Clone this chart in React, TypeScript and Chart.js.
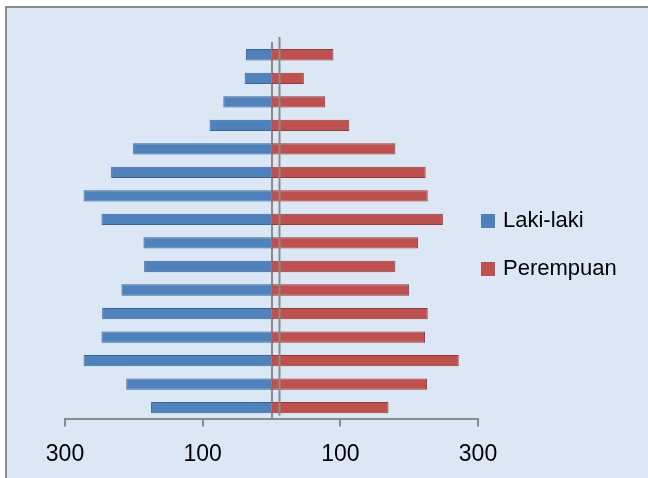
import React, { useEffect, useRef } from "react";
import { Chart, registerables } from "chart.js";

Chart.register(...registerables);

// Age groups from youngest (bottom) to oldest (top)
const AGE_GROUPS = [
  "0-4", "5-9", "10-14", "15-19", "20-24", "25-29", "30-34", "35-39",
  "40-44", "45-49", "50-54", "55-59", "60-64", "65-69", "70-74", "75+",
];
const LAKI_LAKI = [175, 211, 273, 247, 246, 218, 185, 186, 247, 273, 233, 201, 90, 70, 39, 37];
const PEREMPUAN = [170, 226, 272, 223, 227, 200, 180, 213, 249, 227, 224, 180, 113, 78, 47, 90];
const X_TICKS = [-300, -100, 100, 300];
const SERIES_NAMES = ["Laki-laki", "Perempuan"];
const SERIES_COLORS = ["#4f81bd", "#c0504d"];
const SERIES_BORDERS = ["#3b6597", "#923c3a"];

const backLinePlugin = {
  id: "backLine",
  afterDatasetsDraw(chart: any) {
    const xs = chart.scales.x;
    const area = chart.chartArea;
    const ctx = chart.ctx;
    const x0 = xs.getPixelForValue(0) + 8;
    ctx.save();
    ctx.strokeStyle = "#8a8a8a";
    ctx.lineWidth = 2;
    ctx.beginPath();
    ctx.moveTo(x0, area.top - 6);
    ctx.lineTo(x0, area.bottom - 4);
    ctx.stroke();
    ctx.restore();
  },
};

export default function App() {
  const canvasRef = useRef<HTMLCanvasElement | null>(null);

  useEffect(() => {
    if (!canvasRef.current) return;
    const chart = new Chart(canvasRef.current, {
      type: "bar",
      data: {
        labels: AGE_GROUPS,
        datasets: [
          {
            label: SERIES_NAMES[0],
            data: LAKI_LAKI.map((v) => -v),
            backgroundColor: SERIES_COLORS[0],
            borderColor: SERIES_BORDERS[0],
            borderWidth: 1,
            barPercentage: 0.48,
            categoryPercentage: 1,
          },
          {
            label: SERIES_NAMES[1],
            data: PEREMPUAN,
            backgroundColor: SERIES_COLORS[1],
            borderColor: SERIES_BORDERS[1],
            borderWidth: 1,
            barPercentage: 0.48,
            categoryPercentage: 1,
          },
        ],
      },
      options: {
        indexAxis: "y",
        animation: false,
        responsive: false,
        layout: { padding: { left: 65, right: 170, top: 43, bottom: -4 } },
        plugins: {
          legend: { display: false },
          tooltip: { enabled: false },
        },
        scales: {
          x: {
            min: -300,
            max: 300,
            stacked: true,
            afterBuildTicks: (s: any) => {
              s.ticks = X_TICKS.map((v) => ({ value: v }));
            },
            ticks: {
              callback: (v: any) => String(Math.abs(Number(v))),
              color: "#000",
              font: { family: "'Liberation Sans', Arial, sans-serif", size: 23 },
              padding: 14,
              maxRotation: 0,
            },
            grid: {
              drawOnChartArea: false,
              drawTicks: true,
              tickLength: 7,
              color: "#8a8a8a",
              lineWidth: 2,
            },
            border: { display: true, color: "#8a8a8a", width: 2 },
          },
          y: {
            stacked: true,
            reverse: true,
            position: { x: 0 } as any,
            z: 1,
            ticks: { display: false },
            grid: { display: false },
            border: { display: true, color: "#8a8a8a", width: 2 },
          },
        },
      },
      plugins: [backLinePlugin],
    } as any);
    return () => chart.destroy();
  }, []);

  const legendText: React.CSSProperties = {
    position: "absolute",
    left: 503,
    fontFamily: "'Liberation Sans', Arial, sans-serif",
    fontSize: 22,
    lineHeight: "22px",
    color: "#000",
    whiteSpace: "nowrap",
  };
  const square = (top: number, color: string): React.CSSProperties => ({
    position: "absolute",
    left: 481,
    top,
    width: 14,
    height: 14,
    background: color,
  });

  return (
    <div style={{ position: "fixed", left: 0, top: 0, width: 648, height: 478, background: "#fff", overflow: "hidden" }}>
      <div
        style={{
          position: "absolute",
          left: 5,
          top: 6,
          width: 660,
          height: 490,
          background: "#dbe7f5",
          borderTop: "2px solid #8a8a8a",
          borderLeft: "2px solid #8a8a8a",
        }}
      />
      <canvas ref={canvasRef} width={648} height={478} style={{ position: "absolute", left: 0, top: 0, width: 648, height: 478 }} />
      <div style={square(214, SERIES_COLORS[0])} />
      <div style={{ ...legendText, top: 209 }}>{SERIES_NAMES[0]}</div>
      <div style={square(262, SERIES_COLORS[1])} />
      <div style={{ ...legendText, top: 257 }}>{SERIES_NAMES[1]}</div>
    </div>
  );
}
